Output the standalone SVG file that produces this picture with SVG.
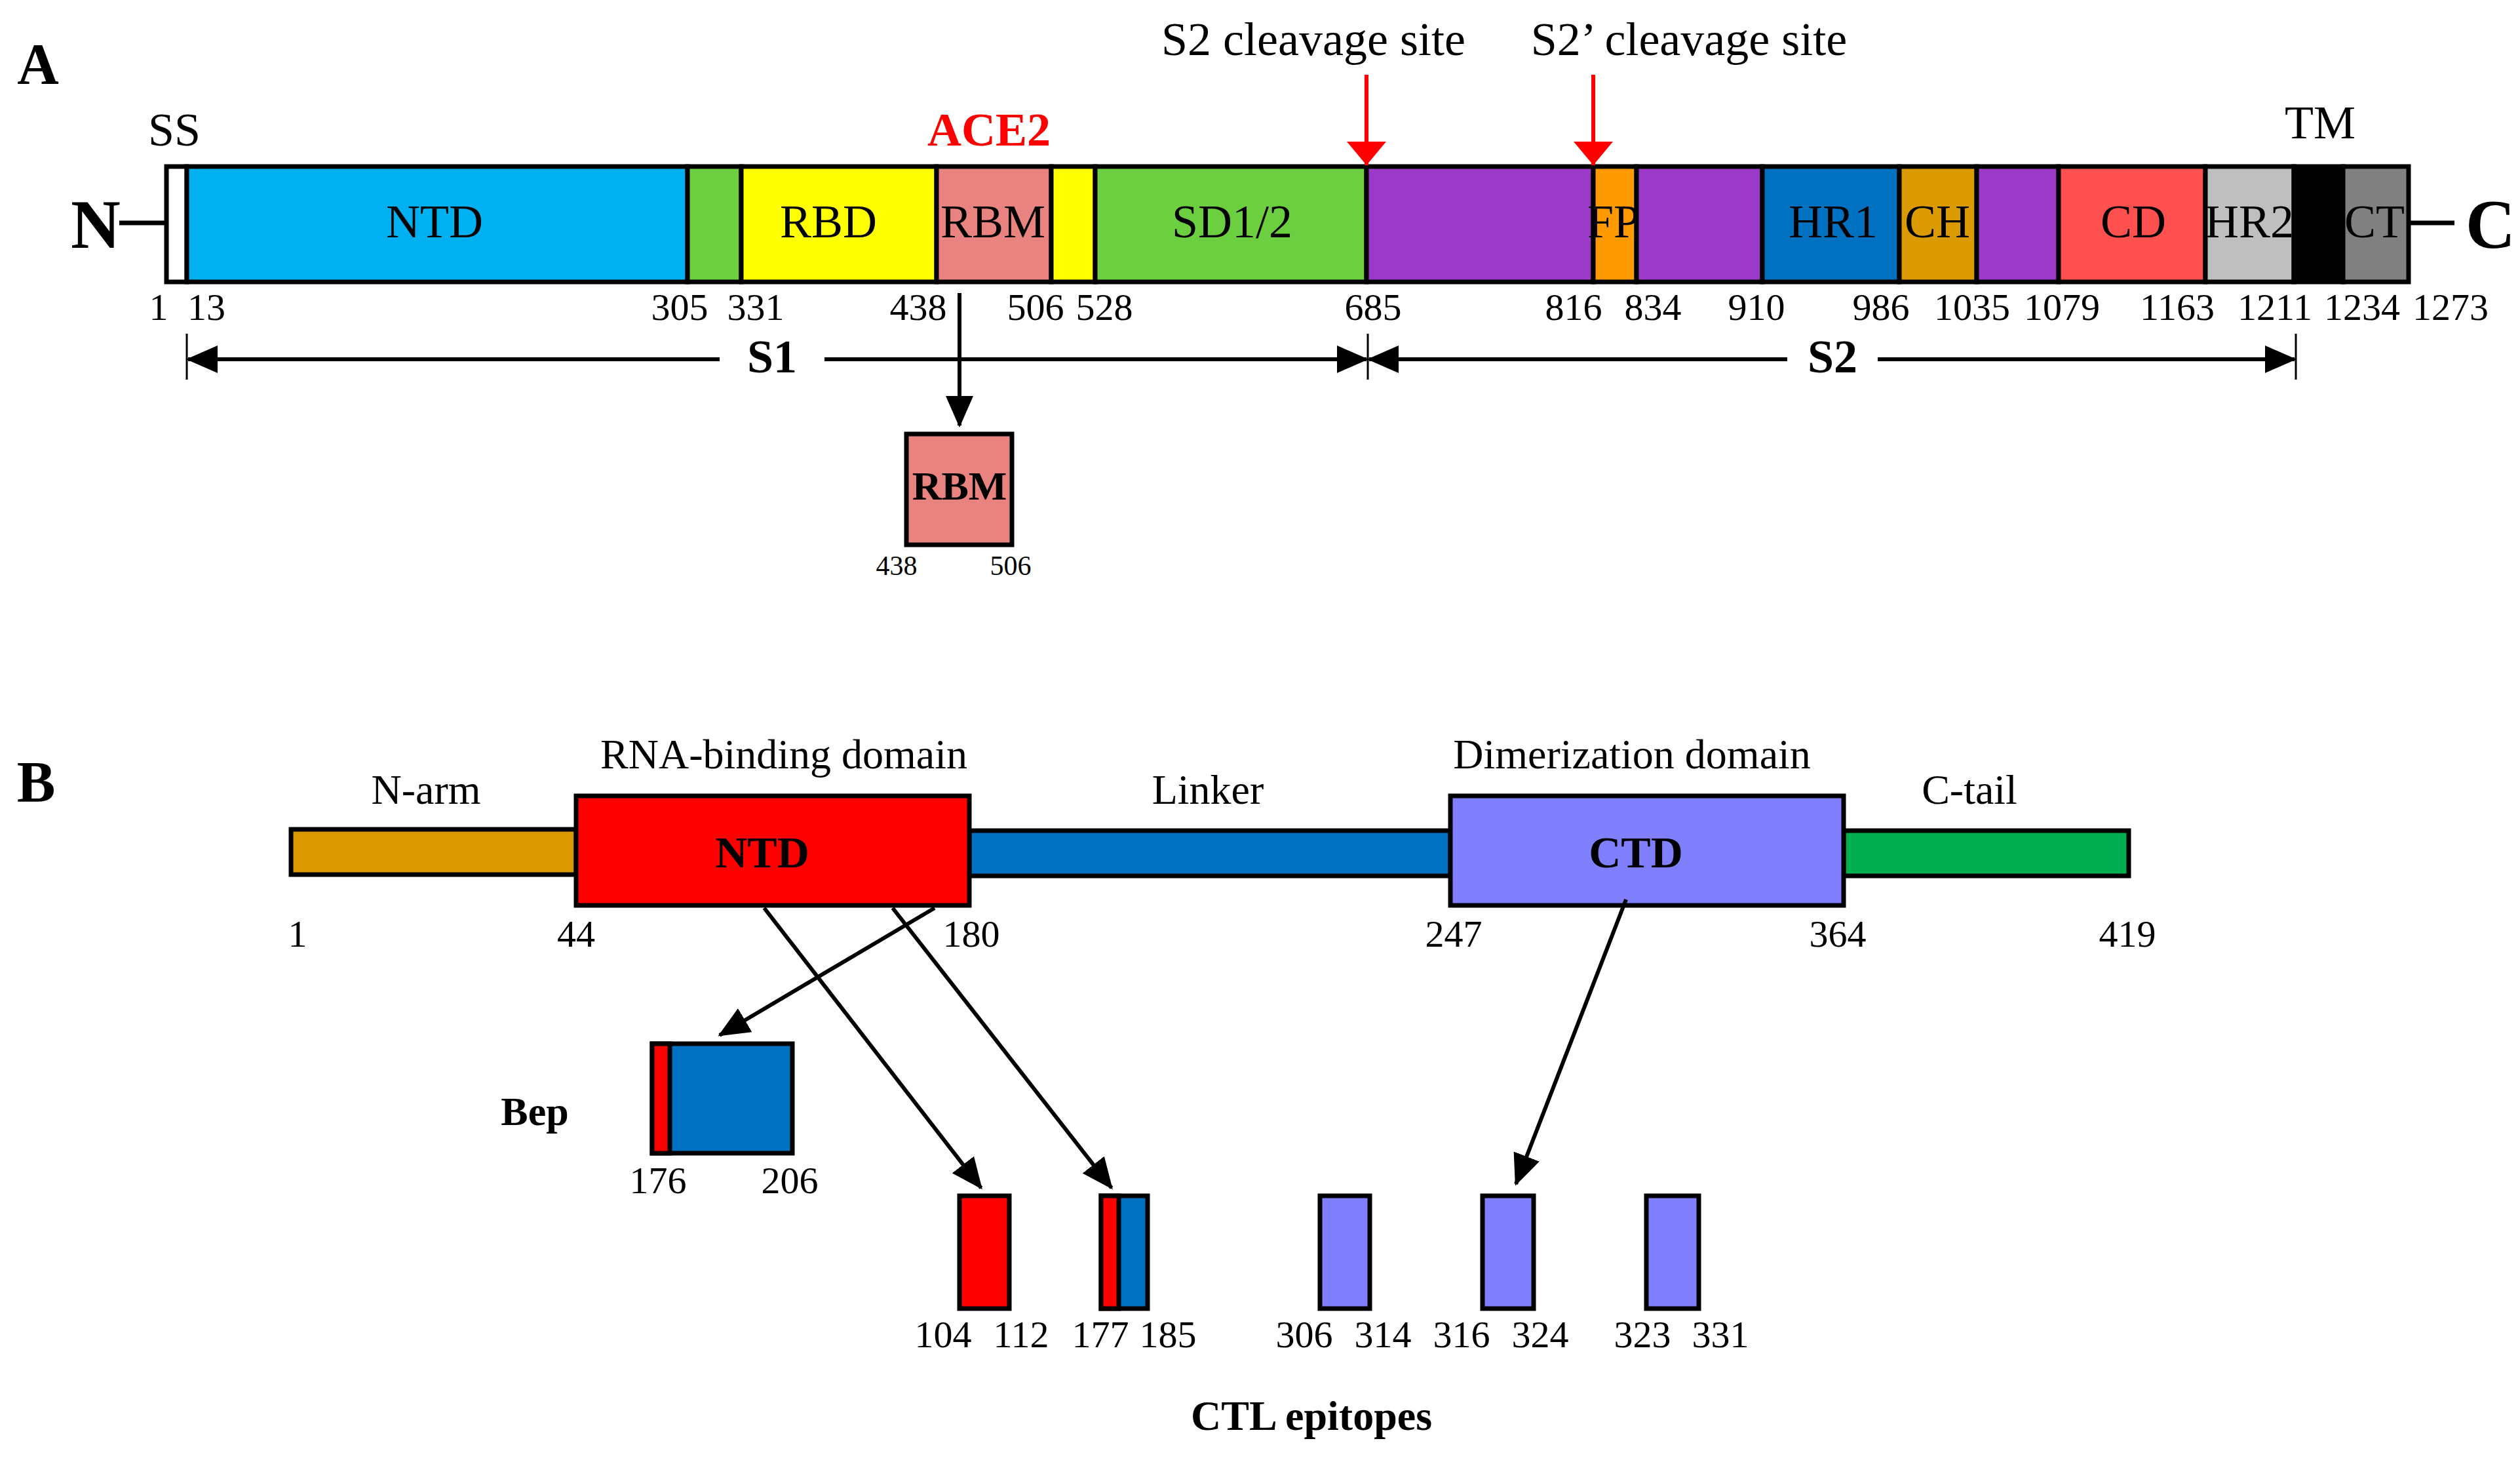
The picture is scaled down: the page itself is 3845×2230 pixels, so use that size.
<svg xmlns="http://www.w3.org/2000/svg" width="3845" height="2230" viewBox="0 0 3845 2230">
<defs>
<style>
text{font-family:"Liberation Serif","Times New Roman",serif;fill:#000}
.lab{font-size:72px;text-anchor:middle}
.num{font-size:58px;text-anchor:middle}
.b{font-weight:bold}
.seg{stroke:#000;stroke-width:7}
.con{stroke:#000;stroke-width:6;fill:none}
</style>
<marker id="ah" markerWidth="8" markerHeight="7" refX="7.5" refY="3.5" orient="auto" markerUnits="strokeWidth"><path d="M0,0 L8,3.5 L0,7 z" fill="#000"/></marker>
<marker id="ahr" markerWidth="6" markerHeight="10" refX="6" refY="5" orient="auto" markerUnits="strokeWidth"><path d="M0,0 L6,5 L0,10 z" fill="#f00"/></marker>
</defs>
<rect width="3845" height="2230" fill="#fff"/>
<text x="58" y="127" font-size="88" class="b" text-anchor="middle">A</text>
<text x="55" y="1222" font-size="88" class="b" text-anchor="middle">B</text>

<g id="spike">
<line x1="182" y1="340" x2="254" y2="340" class="seg"/>
<line x1="3675" y1="340" x2="3745" y2="340" class="seg"/>
<text x="146" y="378" font-size="105" class="b" text-anchor="middle">N</text>
<text x="3800" y="378" font-size="105" class="b" text-anchor="middle">C</text>
<g class="seg">
<rect x="254" y="254" width="31" height="176" fill="#fff"/>
<rect x="285" y="254" width="764" height="176" fill="#00B0F0"/>
<rect x="1049" y="254" width="82" height="176" fill="#6CCF3F"/>
<rect x="1131" y="254" width="298" height="176" fill="#FFFF00"/>
<rect x="1429" y="254" width="175" height="176" fill="#E88380"/>
<rect x="1604" y="254" width="67" height="176" fill="#FFFF00"/>
<rect x="1671" y="254" width="414" height="176" fill="#6CCF3F"/>
<rect x="2085" y="254" width="346" height="176" fill="#9B3AC8"/>
<rect x="2431" y="254" width="66" height="176" fill="#FF9900"/>
<rect x="2497" y="254" width="192" height="176" fill="#9B3AC8"/>
<rect x="2689" y="254" width="209" height="176" fill="#0070C0"/>
<rect x="2898" y="254" width="118" height="176" fill="#DA9A00"/>
<rect x="3016" y="254" width="125" height="176" fill="#9B3AC8"/>
<rect x="3141" y="254" width="224" height="176" fill="#FF5050"/>
<rect x="3365" y="254" width="135" height="176" fill="#BFBFBF"/>
<rect x="3500" y="254" width="75" height="176" fill="#000"/>
<rect x="3575" y="254" width="100" height="176" fill="#808080"/>
</g>
<text class="lab" x="663" y="362">NTD</text>
<text class="lab" x="1264" y="362">RBD</text>
<text class="lab" x="1515" y="362">RBM</text>
<text class="lab" x="1880" y="362">SD1/2</text>
<text class="lab" x="2462" y="362">FP</text>
<text class="lab" x="2797" y="362">HR1</text>
<text class="lab" x="2956" y="362">CH</text>
<text class="lab" x="3255" y="362">CD</text>
<text class="lab" x="3432" y="362">HR2</text>
<text class="lab" x="3623" y="362">CT</text>
<text class="lab" x="266" y="222" font-size="66">SS</text>
<text class="lab b" x="1509" y="222" fill="#f00" style="fill:#f00">ACE2</text>
<text class="lab" x="3540" y="211" font-size="62">TM</text>
<text class="lab" x="2004" y="84">S2 cleavage site</text>
<text class="lab" x="2577" y="84">S2’ cleavage site</text>
<g class="num">
<text x="242" y="488">1</text><text x="315" y="488">13</text><text x="1037" y="488">305</text><text x="1153" y="488">331</text>
<text x="1401" y="488">438</text><text x="1580" y="488">506</text><text x="1685" y="488">528</text><text x="2095" y="488">685</text>
<text x="2401" y="488">816</text><text x="2522" y="488">834</text><text x="2680" y="488">910</text><text x="2870" y="488">986</text>
<text x="3009" y="488">1035</text><text x="3146" y="488">1079</text><text x="3322" y="488">1163</text><text x="3471" y="488">1211</text>
<text x="3604" y="488">1234</text><text x="3739" y="488">1273</text>
</g>
<text class="lab b" x="1178" y="568" font-size="70">S1</text>
<text class="lab b" x="2796" y="568" font-size="70">S2</text>
</g>

<g id="rbm">
<rect x="1383" y="662" width="161" height="169" fill="#E88380" stroke="#000" stroke-width="7"/>
<text class="b" x="1464" y="762" font-size="62" text-anchor="middle">RBM</text>
<text x="1368" y="877" font-size="42" text-anchor="middle">438</text>
<text x="1542" y="877" font-size="42" text-anchor="middle">506</text>
</g>

<g id="n-protein">
<g class="seg">
<rect x="444" y="1265" width="435" height="69" fill="#DA9A00"/>
<rect x="1479" y="1267" width="734" height="69" fill="#0070C0"/>
<rect x="2813" y="1267" width="435" height="69" fill="#00B050"/>
<rect x="879" y="1214" width="600" height="167" fill="#FF0000"/>
<rect x="2213" y="1214" width="600" height="167" fill="#8080FF"/>
</g>
<text class="b" x="1163" y="1323" font-size="68" text-anchor="middle">NTD</text>
<text class="b" x="2496" y="1323" font-size="68" text-anchor="middle">CTD</text>
<g class="lab" font-size="64">
<text x="650" y="1226" font-size="64">N-arm</text>
<text x="1196" y="1172" font-size="64">RNA-binding domain</text>
<text x="1843" y="1226" font-size="64">Linker</text>
<text x="2490" y="1172" font-size="64">Dimerization domain</text>
<text x="3005" y="1226" font-size="64">C-tail</text>
</g>
<g class="num">
<text x="454" y="1444">1</text><text x="879" y="1444">44</text><text x="1482" y="1444">180</text>
<text x="2218" y="1444">247</text><text x="2804" y="1444">364</text><text x="3246" y="1444">419</text>
</g>
</g>

<g id="bep">
<rect x="995" y="1592" width="214" height="167" fill="#0070C0" stroke="#000" stroke-width="7"/>
<rect x="995" y="1592" width="27" height="167" fill="#FF0000" stroke="#000" stroke-width="7"/>
<text class="b" x="816" y="1716" font-size="62" text-anchor="middle">Bep</text>
<text class="num" x="1004" y="1820">176</text><text class="num" x="1205" y="1820">206</text>
</g>

<g id="ctl">
<g class="seg">
<rect x="1464" y="1824" width="76" height="172" fill="#FF0000"/>
<rect x="1680" y="1824" width="71" height="172" fill="#0070C0"/>
<rect x="1680" y="1824" width="27" height="172" fill="#FF0000"/>
<rect x="2014" y="1824" width="76" height="172" fill="#8080FF"/>
<rect x="2262" y="1824" width="78" height="172" fill="#8080FF"/>
<rect x="2512" y="1824" width="80" height="172" fill="#8080FF"/>
</g>
<g class="num">
<text x="1439" y="2055">104</text><text x="1558" y="2055">112</text><text x="1679" y="2055">177</text><text x="1782" y="2055">185</text>
<text x="1990" y="2055">306</text><text x="2110" y="2055">314</text><text x="2230" y="2055">316</text><text x="2350" y="2055">324</text>
<text x="2506" y="2055">323</text><text x="2625" y="2055">331</text>
</g>
<text class="b" x="2001" y="2181" font-size="64" text-anchor="middle">CTL epitopes</text>
</g>

<g id="connectors">
<line x1="2085" y1="114" x2="2085" y2="252" stroke="#f00" stroke-width="6" marker-end="url(#ahr)"/>
<line x1="2431" y1="114" x2="2431" y2="252" stroke="#f00" stroke-width="6" marker-end="url(#ahr)"/>
<line x1="285" y1="509" x2="285" y2="579" stroke="#000" stroke-width="3"/>
<line x1="2087" y1="509" x2="2087" y2="579" stroke="#000" stroke-width="3"/>
<line x1="3503" y1="509" x2="3503" y2="579" stroke="#000" stroke-width="3"/>
<line x1="1098" y1="548" x2="287" y2="548" class="con" marker-end="url(#ah)"/>
<line x1="1258" y1="548" x2="2085" y2="548" class="con" marker-end="url(#ah)"/>
<line x1="2727" y1="548" x2="2089" y2="548" class="con" marker-end="url(#ah)"/>
<line x1="2865" y1="548" x2="3501" y2="548" class="con" marker-end="url(#ah)"/>
<line x1="1464" y1="447" x2="1464" y2="649" class="con" marker-end="url(#ah)"/>
<line x1="1426" y1="1385" x2="1098" y2="1579" class="con" marker-end="url(#ah)"/>
<line x1="1166" y1="1385" x2="1497" y2="1812" class="con" marker-end="url(#ah)"/>
<line x1="1362" y1="1385" x2="1696" y2="1812" class="con" marker-end="url(#ah)"/>
<line x1="2481" y1="1372" x2="2313" y2="1806" class="con" marker-end="url(#ah)"/>
</g>
</svg>
